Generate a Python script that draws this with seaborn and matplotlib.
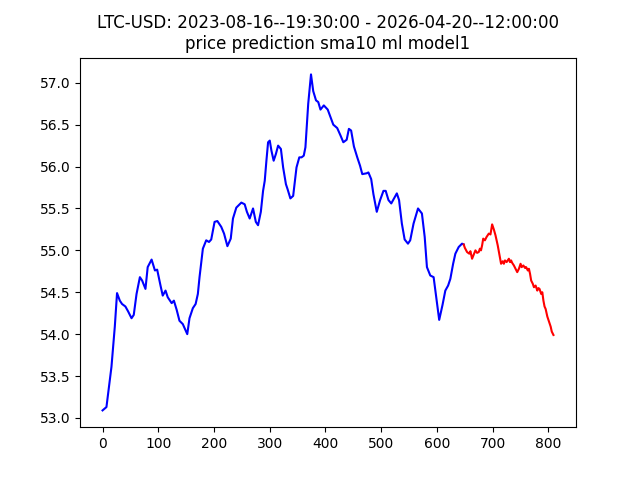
import seaborn as sns
import pandas as pd
import matplotlib.pyplot as plt

# historical series (blue)
hist_x = [0, 7, 13, 16, 17, 22, 26, 31, 35, 41, 46, 52, 56, 61, 67, 71, 77, 81, 88, 94, 98,
          104, 108, 113, 117, 124, 128, 133, 138, 144, 152, 156, 162, 167, 171, 174, 180, 186,
          191, 195, 201, 206, 213, 218, 224, 230, 234, 240, 249, 255, 259, 264, 270, 275, 279,
          284, 288, 291, 294, 297, 300, 303, 307, 311, 315, 320, 324, 329, 332, 337, 342, 348,
          353, 357, 361, 364, 369, 374, 378, 383, 387, 391, 397, 404, 409, 414, 421, 427, 432,
          438, 442, 446, 451, 457, 462, 466, 474, 477, 482, 486, 492, 498, 504, 508, 513, 518,
          523, 528, 532, 537, 542, 548, 552, 558, 566, 573, 578, 582, 588, 594, 598, 604, 610,
          615, 620, 624, 629, 633, 639, 645, 648]
hist_y = [53.09, 53.13, 53.45, 53.61, 53.69, 54.09, 54.49, 54.40, 54.36, 54.33, 54.27, 54.19,
          54.23, 54.48, 54.68, 54.64, 54.54, 54.80, 54.89, 54.76, 54.77, 54.58, 54.46, 54.52,
          54.44, 54.37, 54.40, 54.29, 54.16, 54.12, 54.00, 54.19, 54.31, 54.36, 54.48, 54.68,
          55.02, 55.12, 55.10, 55.13, 55.34, 55.35, 55.28, 55.20, 55.05, 55.14, 55.38, 55.51,
          55.57, 55.55, 55.46, 55.38, 55.50, 55.34, 55.30, 55.46, 55.71, 55.83, 56.07, 56.29,
          56.31, 56.19, 56.07, 56.15, 56.25, 56.21, 55.99, 55.79, 55.73, 55.62, 55.65, 55.99,
          56.11, 56.11, 56.13, 56.23, 56.75, 57.10, 56.90, 56.79, 56.77, 56.68, 56.73, 56.68,
          56.59, 56.50, 56.46, 56.37, 56.29, 56.32, 56.45, 56.43, 56.24, 56.11, 56.01, 55.91,
          55.92, 55.93, 55.85, 55.67, 55.46, 55.60, 55.71, 55.71, 55.60, 55.56, 55.62, 55.68,
          55.60, 55.32, 55.13, 55.08, 55.12, 55.32, 55.50, 55.44, 55.16, 54.80, 54.70, 54.68,
          54.48, 54.17, 54.35, 54.52, 54.58, 54.66, 54.84, 54.96, 55.04, 55.08, 55.07]

# predicted series (red)
pred_x = [648, 650, 654, 658, 660, 663, 666, 669, 672, 675, 677, 679, 681, 683, 686, 689, 693,
          696, 699, 702, 705, 709, 712, 715, 718, 720, 722, 725, 729, 731, 733, 735, 738, 741,
          744, 747, 750, 752, 755, 758, 760, 763, 765, 767, 769, 772, 774, 777, 780, 782, 784,
          787, 789, 791, 793, 795, 798, 801, 804, 806, 809]
pred_y = [55.07, 55.03, 54.98, 54.96, 54.99, 54.90, 54.95, 55.00, 54.97, 54.98, 55.02, 55.00,
          55.06, 55.14, 55.12, 55.16, 55.20, 55.19, 55.31, 55.25, 55.18, 55.06, 54.95, 54.84,
          54.87, 54.84, 54.88, 54.86, 54.90, 54.86, 54.88, 54.85, 54.82, 54.78, 54.74, 54.78,
          54.84, 54.80, 54.82, 54.79, 54.80, 54.76, 54.78, 54.72, 54.64, 54.60, 54.56, 54.58,
          54.52, 54.55, 54.54, 54.48, 54.50, 54.40, 54.33, 54.30, 54.21, 54.15, 54.09, 54.03,
          53.99]

hist = pd.DataFrame({'x': hist_x, 'y': hist_y})
pred = pd.DataFrame({'x': pred_x, 'y': pred_y})

fig, ax = plt.subplots(figsize=(6.4, 4.8), dpi=100)

sns.lineplot(data=hist, x='x', y='y', ax=ax, color='blue', sort=False, estimator=None)
sns.lineplot(data=pred, x='x', y='y', ax=ax, color='red', sort=False, estimator=None)

ax.set_xlabel('')
ax.set_ylabel('')
ax.set_title('LTC-USD: 2023-08-16--19:30:00 - 2026-04-20--12:00:00\nprice prediction sma10 ml model1')

plt.savefig('out.png')
